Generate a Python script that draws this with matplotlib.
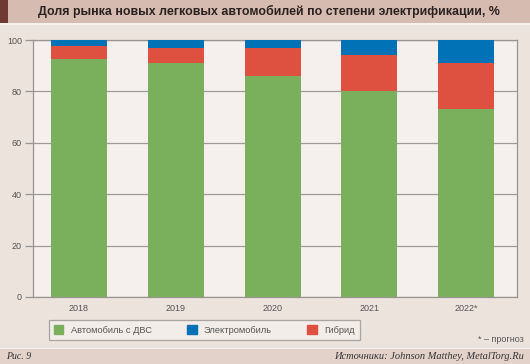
import matplotlib
matplotlib.use("Agg")
import matplotlib.pyplot as plt
import numpy as np
from matplotlib.patches import Rectangle, Patch

years = ["2018", "2019", "2020", "2021", "2022*"]
ice = [92.5, 91, 86, 80, 73]
hybrid = [5, 6, 11, 14, 18]
ev = [2.5, 3, 3, 6, 9]

c_ice = "#7aaf5c"
c_ev = "#0072b5"
c_hyb = "#de5040"

plt.rcParams["font.family"] = ["Liberation Sans", "DejaVu Sans"]

W, H = 530, 364
fig = plt.figure(figsize=(W / 100, H / 100), dpi=100)
fig.patch.set_facecolor("#ece3dd")

# title bar and footer
fig.patches.append(Rectangle((0, 1 - 23 / H), 1, 23 / H, transform=fig.transFigure,
                             facecolor="#d6bbb0", edgecolor="none", zorder=0))
fig.patches.append(Rectangle((0, 1 - 25 / H), 1, 2 / H, transform=fig.transFigure,
                             facecolor="#f6f0ec", edgecolor="none", zorder=0))
fig.patches.append(Rectangle((0, 1 - 23 / H), 8 / W, 23 / H, transform=fig.transFigure,
                             facecolor="#6e3a33", edgecolor="none", zorder=1))
fig.patches.append(Rectangle((0, 0), 1, 15 / H, transform=fig.transFigure,
                             facecolor="#e2d2ca", edgecolor="none", zorder=0))
fig.patches.append(Rectangle((0, 15 / H), 1, 1.5 / H, transform=fig.transFigure,
                             facecolor="#f6f0ec", edgecolor="none", zorder=0))
fig.text(268.5 / W, 1 - 11.5 / H, "Доля рынка новых легковых автомобилей по степени электрификации, %",
         ha="center", va="center", fontsize=8.9, fontweight="bold", color="#2a2220")
fig.text(6 / W, 7.5 / H, "Рис. 9", ha="left", va="center", fontsize=7,
         family="Liberation Serif", style="italic", color="#333333")
fig.text(1 - 6 / W, 7.5 / H, "Источники: Johnson Matthey, MetalTorg.Ru", ha="right", va="center",
         fontsize=7.5, family="Liberation Serif", style="italic", color="#333333")
fig.text(1 - 6 / W, 1 - 340 / H, "* – прогноз", ha="right", va="center", fontsize=6.5, color="#555555")

ax = fig.add_axes([33 / W, 1 - 297 / H, 484 / W, 257 / H])
ax.set_facecolor("#f5f0ed")

x = np.arange(len(years))
bw = 0.58
ice_a = np.array(ice)
hyb_a = np.array(hybrid)
ax.bar(x, ice, bw, color=c_ice, zorder=3)
ax.bar(x, hybrid, bw, bottom=ice_a, color=c_hyb, zorder=3)
ax.bar(x, ev, bw, bottom=ice_a + hyb_a, color=c_ev, zorder=3)

ax.set_xlim(-0.475, 4.525)
ax.set_ylim(0, 100)
ax.set_yticks(range(0, 101, 20))
ax.set_xticks(x)
ax.set_xticklabels(years)
ax.yaxis.grid(True, color="#a09a96", linewidth=0.9, zorder=1)
for s in ax.spines.values():
    s.set_color("#9a9490")
    s.set_linewidth(0.9)
ax.tick_params(axis="y", length=6, width=0.9, color="#9a9490", labelsize=6.5,
               labelcolor="#555555", pad=2)
ax.tick_params(axis="x", length=0, labelsize=6.5, labelcolor="#555555", pad=5)

handles = [Patch(color=c_ice, label="Автомобиль с ДВС"),
           Patch(color=c_ev, label="Электромобиль"),
           Patch(color=c_hyb, label="Гибрид")]
leg = fig.legend(handles=handles, loc="center left", bbox_to_anchor=(49 / W, 1 - 330 / H),
                 ncol=3, fontsize=6.7, frameon=True, fancybox=False,
                 handlelength=1.0, handleheight=1.0, handletextpad=0.8, columnspacing=3.8,
                 borderpad=0.55, borderaxespad=0)
leg.get_frame().set_edgecolor("#9a9490")
leg.get_frame().set_facecolor("#f5f0ed")
leg.get_frame().set_linewidth(0.9)
for t in leg.get_texts():
    t.set_color("#555555")

fig.savefig("out.png", dpi=100, facecolor=fig.get_facecolor())
